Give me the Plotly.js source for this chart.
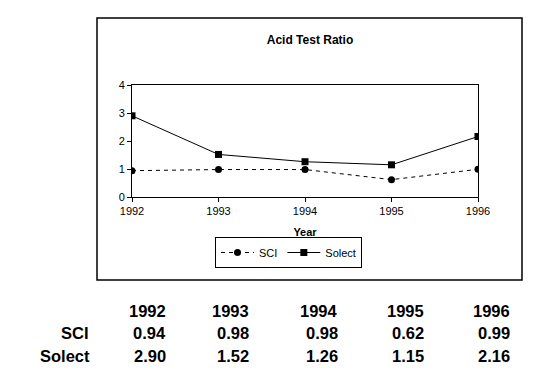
<!DOCTYPE html>
<html><head><meta charset="utf-8">
<script src="https://cdn.plot.ly/plotly-3.0.1.min.js"></script>
<style>html,body{margin:0;padding:0;background:#fff}#chart{width:538px;height:379px}</style>
</head><body><div id="chart"></div>
<script>
var years = [1992, 1993, 1994, 1995, 1996];
var sci = [0.94, 0.98, 0.98, 0.62, 0.99];
var solect = [2.90, 1.52, 1.26, 1.15, 2.16];
var seriesNames = ['SCI', 'Solect'];

// plot area in pixels
var L = 132, R = 478, T = 85, B = 197, W = 538, H = 379;
function px(x){ return (x - L) / (R - L); }
function py(y){ return (B - y) / (B - T); }

var traces = [
  {x: years, y: sci, name: seriesNames[0], type: 'scatter', mode: 'lines+markers',
   line: {color: '#000', width: 1, dash: '4px,4px'}, marker: {symbol: 'circle', size: 7, color: '#000'}},
  {x: years, y: solect, name: seriesNames[1], type: 'scatter', mode: 'lines+markers',
   line: {color: '#000', width: 1}, marker: {symbol: 'square', size: 7, color: '#000'}}
];

var bold = {family: 'Liberation Sans, Arial, sans-serif', size: 16.5, color: '#000'};
var ann = [];
var colRight = [168, 251, 340, 426, 512];
var rowY = [311, 333, 356];
years.forEach(function(yr, i){
  ann.push({xref:'paper', yref:'paper', x: px(colRight[i]), y: py(rowY[0]), xanchor:'right', yanchor:'middle',
    text:'<b>'+yr+'</b>', showarrow:false, font: bold});
  ann.push({xref:'paper', yref:'paper', x: px(colRight[i]), y: py(rowY[1]), xanchor:'right', yanchor:'middle',
    text:'<b>'+sci[i].toFixed(2)+'</b>', showarrow:false, font: bold});
  ann.push({xref:'paper', yref:'paper', x: px(colRight[i]), y: py(rowY[2]), xanchor:'right', yanchor:'middle',
    text:'<b>'+solect[i].toFixed(2)+'</b>', showarrow:false, font: bold});
});
ann.push({xref:'paper', yref:'paper', x: px(91), y: py(rowY[1]), xanchor:'right', yanchor:'middle',
  text:'<b>'+seriesNames[0]+'</b>', showarrow:false, font: bold});
ann.push({xref:'paper', yref:'paper', x: px(92), y: py(rowY[2]), xanchor:'right', yanchor:'middle',
  text:'<b>'+seriesNames[1]+'</b>', showarrow:false, font: bold});

var small = {family: 'Liberation Sans, Arial, sans-serif', size: 11, color: '#000'};
var layout = {
  width: W, height: H,
  margin: {l: L, r: W - R, t: T, b: H - B, pad: 0},
  paper_bgcolor: '#fff', plot_bgcolor: '#fff',
  font: small,
  title: {text: '<b>Acid Test Ratio</b>', font: {family: 'Liberation Sans, Arial, sans-serif', size: 12, color: '#000'},
    x: 310 / W, xanchor: 'center', xref: 'container', y: 1 - 40 / H, yanchor: 'middle', yref: 'container'},
  xaxis: {range: [1992, 1996], tickvals: years, ticktext: years.map(String), showgrid: false, zeroline: false,
    showline: true, linecolor: '#000', linewidth: 1, mirror: true, ticks: 'outside', ticklen: 4, tickcolor: '#000',
    tickfont: small,
    title: {text: '<b>Year</b>', font: {family: 'Liberation Sans, Arial, sans-serif', size: 11, color: '#000'}, standoff: 12}},
  yaxis: {range: [0, 4], dtick: 1, showgrid: false, zeroline: false,
    showline: true, linecolor: '#000', linewidth: 1, mirror: true, ticks: 'outside', ticklen: 4, tickcolor: '#000',
    tickfont: small},
  showlegend: true,
  legend: {orientation: 'h', x: px(215), y: py(237), xanchor: 'left', yanchor: 'top',
    bordercolor: '#000', borderwidth: 1, bgcolor: '#fff', font: small, itemwidth: 33, tracegroupgap: 0},
  shapes: [{type: 'rect', xref: 'paper', yref: 'paper', x0: px(97), x1: px(522), y0: py(280), y1: py(18),
    line: {color: '#000', width: 1.5}, fillcolor: 'rgba(0,0,0,0)', layer: 'below'}],
  annotations: ann
};
Plotly.newPlot('chart', traces, layout, {displayModeBar: false, staticPlot: true});
</script></body></html>
